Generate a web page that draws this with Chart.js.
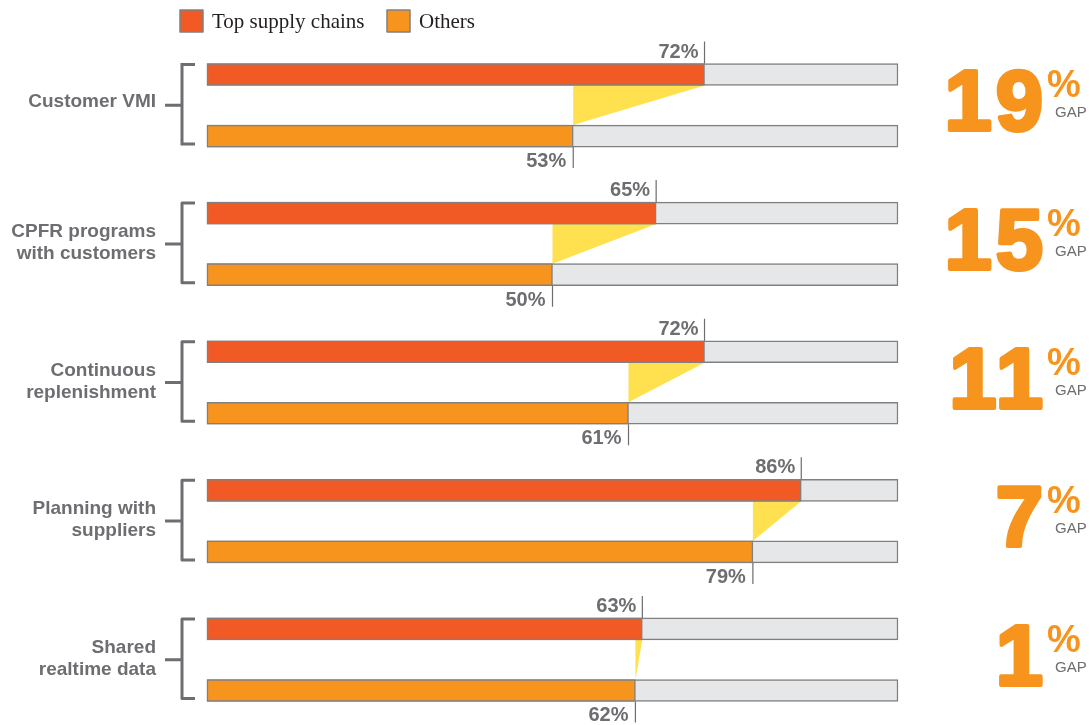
<!DOCTYPE html>
<html lang="en">
<head>
  <meta charset="UTF-8">
  <title>Supply chain practices gap</title>
  <script src="https://cdn.jsdelivr.net/npm/chart.js"></script>
  <style>
    body { margin: 0; background: #fff; }
    #wrap { width: 1090px; height: 725px; position: relative; }
  </style>
</head>
<body>
  <div id="wrap">
    <canvas id="gapChart"></canvas>
  </div>

  <script>
    // dados
    const categories = [
      ['Customer VMI'],
      ['CPFR programs', 'with customers'],
      ['Continuous', 'replenishment'],
      ['Planning with', 'suppliers'],
      ['Shared', 'realtime data']
    ];
    const topChains = [72, 65, 72, 86, 63];
    const others = [53, 50, 61, 79, 62];
    const seriesNames = ['Top supply chains', 'Others'];
    const fullScale = 100;

    const ROW_OFFSET = 0.444; // distância entre a barra de cima e a de baixo (em unidades de grupo)
    const HALF = 11;          // meia altura da barra
    const GRAY = '#6d6e71';
    const FONT = "'Liberation Sans', Arial, sans-serif";

    const bgPoints = [];
    categories.forEach((c, i) => {
      bgPoints.push({ x: fullScale, y: i });
      bgPoints.push({ x: fullScale, y: i + ROW_OFFSET });
    });

    const decor = {
      id: 'decor',
      beforeDatasetsDraw(chart) {
        const ctx = chart.ctx, xs = chart.scales.x, ys = chart.scales.y;
        ctx.save();
        ctx.fillStyle = '#ffe14f';
        categories.forEach((c, i) => {
          const yTop = ys.getPixelForValue(i), yBot = ys.getPixelForValue(i + ROW_OFFSET);
          const xt = xs.getPixelForValue(topChains[i]), xb = xs.getPixelForValue(others[i]);
          ctx.beginPath();
          ctx.moveTo(xb, yTop + HALF);
          ctx.lineTo(xt, yTop + HALF);
          ctx.lineTo(xb, yBot - HALF);
          ctx.closePath();
          ctx.fill();
        });
        ctx.restore();
      },
      afterDatasetsDraw(chart) {
        const ctx = chart.ctx, xs = chart.scales.x, ys = chart.scales.y;
        const left = chart.chartArea.left, right = chart.chartArea.right;
        ctx.save();
        categories.forEach((lines, i) => {
          const yTop = ys.getPixelForValue(i), yBot = ys.getPixelForValue(i + ROW_OFFSET);
          const mid = (yTop + yBot) / 2;
          const xt = xs.getPixelForValue(topChains[i]), xb = xs.getPixelForValue(others[i]);

          // linhas de marcação
          ctx.strokeStyle = GRAY;
          ctx.lineWidth = 1.2;
          ctx.beginPath();
          ctx.moveTo(xt, yTop - HALF); ctx.lineTo(xt, yTop - HALF - 22);
          ctx.moveTo(xb, yBot + HALF); ctx.lineTo(xb, yBot + HALF + 21);
          ctx.stroke();

          // valores
          ctx.fillStyle = GRAY;
          ctx.font = 'bold 20px ' + FONT;
          ctx.textAlign = 'right';
          ctx.textBaseline = 'alphabetic';
          ctx.fillText(topChains[i] + '%', xt - 6, yTop - HALF - 6);
          ctx.fillText(others[i] + '%', xb - 7, yBot + HALF + 20);

          // categoria
          ctx.font = 'bold 19px ' + FONT;
          const first = lines.length === 1 ? mid + 2 : mid - 7;
          lines.forEach((t, k) => ctx.fillText(t, left - 51, first + k * 22));

          // chaveta
          ctx.lineWidth = 3;
          ctx.beginPath();
          ctx.moveTo(left - 12, yTop - HALF + 1);
          ctx.lineTo(left - 25, yTop - HALF + 1);
          ctx.lineTo(left - 25, yBot + HALF - 3);
          ctx.lineTo(left - 12, yBot + HALF - 3);
          ctx.moveTo(left - 42, mid);
          ctx.lineTo(left - 25, mid);
          ctx.stroke();

          // gap
          const gap = topChains[i] - others[i];
          ctx.fillStyle = '#f7941d';
          ctx.strokeStyle = '#f7941d';
          ctx.lineWidth = 4;
          ctx.lineJoin = 'round';
          ctx.font = 'bold 85px ' + FONT;
          ctx.letterSpacing = '4px';
          ctx.textAlign = 'right';
          ctx.fillText(gap, right + 149, mid + 25);
          ctx.strokeText(gap, right + 149, mid + 25);
          ctx.letterSpacing = '0px';
          ctx.font = 'bold 38px ' + FONT;
          ctx.textAlign = 'left';
          ctx.fillText('%', right + 149, mid - 8);
          ctx.fillStyle = GRAY;
          ctx.font = '15px ' + FONT;
          ctx.fillText('GAP', right + 157, mid + 12);
        });

        // legenda
        const ds = chart.data.datasets;
        const legendX = [180, 387];
        ctx.font = "21px 'Liberation Serif', 'Times New Roman', serif";
        ctx.textAlign = 'left';
        [0, 1].forEach(k => {
          ctx.fillStyle = ds[k].backgroundColor;
          ctx.fillRect(legendX[k], 10, 23, 22);
          ctx.strokeStyle = '#808080';
          ctx.lineWidth = 1.5;
          ctx.strokeRect(legendX[k], 10, 23, 22);
          ctx.fillStyle = '#231f20';
          ctx.fillText(ds[k].label, legendX[k] + 32, 28);
        });
        ctx.restore();
      }
    };

    const barStyle = {
      borderColor: '#808080',
      borderWidth: 1.5,
      borderSkipped: false,
      barThickness: 22,
      grouped: false,
      clip: 5
    };

    new Chart(document.getElementById('gapChart'), {
      type: 'bar',
      data: {
        datasets: [
          Object.assign({ label: seriesNames[0], data: topChains.map((v, i) => ({ x: v, y: i })), backgroundColor: '#f15a24', order: 1 }, barStyle),
          Object.assign({ label: seriesNames[1], data: others.map((v, i) => ({ x: v, y: i + ROW_OFFSET })), backgroundColor: '#f7941d', order: 1 }, barStyle),
          Object.assign({ label: 'scale', data: bgPoints, backgroundColor: '#e6e7e8', order: 2 }, barStyle)
        ]
      },
      options: {
        indexAxis: 'y',
        responsive: true,
        maintainAspectRatio: false,
        animation: false,
        layout: { padding: { left: 207, right: 192, top: 40, bottom: 0 } },
        scales: {
          x: { type: 'linear', min: 0, max: fullScale, display: false },
          y: { type: 'linear', min: -0.249, max: 4.693, reverse: true, offset: false, display: false }
        },
        plugins: {
          legend: { display: false },
          tooltip: { enabled: false }
        }
      },
      plugins: [decor]
    });
  </script>
</body>
</html>
